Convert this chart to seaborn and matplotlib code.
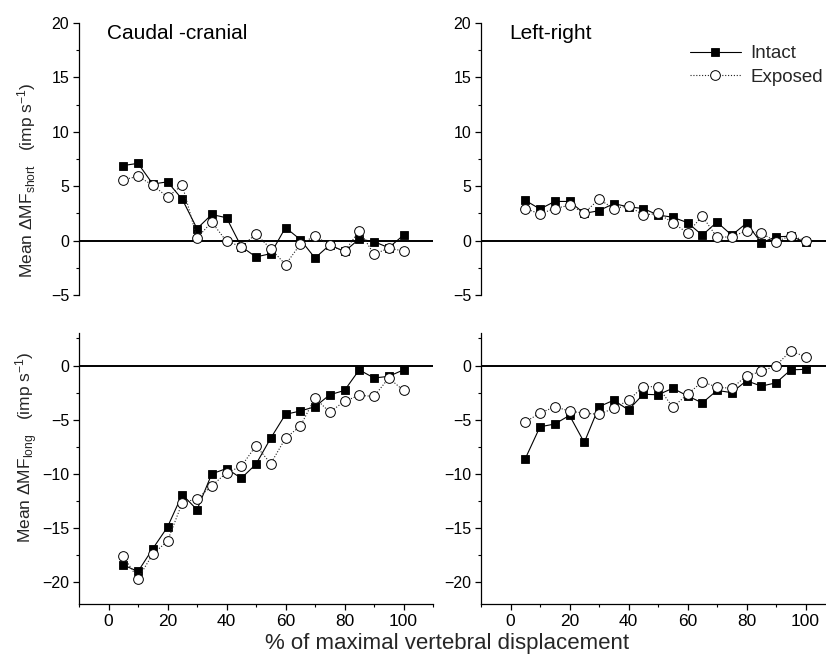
import numpy as np
import pandas as pd
import matplotlib
matplotlib.use("Agg")
import matplotlib.pyplot as plt
import seaborn as sns
from matplotlib.ticker import MultipleLocator
from matplotlib.lines import Line2D

# ---------------- data ----------------
displacement = [5, 10, 15, 20, 25, 30, 35, 40, 45, 50, 55, 60, 65, 70, 75, 80, 85, 90, 95, 100]

cc_short_intact = [6.9, 7.1, 5.2, 5.4, 3.8, 1.1, 2.4, 2.1, -0.55, -1.5, -1.2, 1.2, 0.1, -1.6, -0.4, -1.0, 0.15, -0.1, -0.65, 0.5]
cc_short_exposed = [5.6, 5.9, 5.1, 4.0, 5.1, 0.25, 1.7, -0.06, -0.55, 0.6, -0.75, -2.2, -0.35, 0.45, -0.45, -1.0, 0.9, -1.25, -0.7, -0.95]

lr_short_intact = [3.7, 2.9, 3.6, 3.6, 2.5, 2.75, 3.4, 3.1, 2.95, 2.35, 2.15, 1.65, 0.5, 1.7, 0.5, 1.6, -0.2, 0.35, 0.4, -0.15]
lr_short_exposed = [2.95, 2.45, 2.95, 3.25, 2.55, 3.8, 2.95, 3.2, 2.35, 2.5, 1.65, 0.7, 2.25, 0.3, 0.35, 0.9, 0.7, -0.1, 0.45, 0.0]

cc_long_intact = [-18.4, -19.0, -16.9, -14.9, -11.9, -13.3, -10.0, -9.5, -10.4, -9.1, -6.7, -4.5, -4.2, -3.8, -2.7, -2.3, -0.4, -1.15, -1.0, -0.4]
cc_long_exposed = [-17.6, -19.65, -17.4, -16.2, -12.65, -12.3, -11.1, -9.9, -9.3, -7.4, -9.05, -6.7, -5.6, -3.0, -4.3, -3.3, -2.75, -2.85, -1.15, -2.3]

lr_long_intact = [-8.6, -5.65, -5.4, -4.6, -7.1, -3.8, -3.2, -4.1, -2.65, -2.7, -2.1, -2.8, -3.45, -2.3, -2.5, -1.4, -1.9, -1.6, -0.4, -0.35]
lr_long_exposed = [-5.2, -4.4, -3.8, -4.2, -4.4, -4.5, -3.95, -3.2, -1.95, -1.95, -3.85, -2.65, -1.5, -2.0, -2.1, -0.95, -0.55, 0.0, 1.35, 0.8]

conditions = ["Intact", "Exposed"]
directions = ["Caudal -cranial", "Left-right"]
x_ticks = [0, 20, 40, 60, 80, 100]
short_ticks = [-5, 0, 5, 10, 15, 20]
long_ticks = [-20, -15, -10, -5, 0]
x_label = "% of maximal vertebral displacement"
y_label_short = "Mean \u0394MF$_{\\mathregular{short}}$   (imp s$^{\\mathregular{-1}}$)"
y_label_long = "Mean \u0394MF$_{\\mathregular{long}}$   (imp s$^{\\mathregular{-1}}$)"

series = {
    ("Caudal -cranial", "short"): (cc_short_intact, cc_short_exposed),
    ("Left-right", "short"): (lr_short_intact, lr_short_exposed),
    ("Caudal -cranial", "long"): (cc_long_intact, cc_long_exposed),
    ("Left-right", "long"): (lr_long_intact, lr_long_exposed),
}
rows = []
for (d, m), (si, se) in series.items():
    for cond, vals in zip(conditions, (si, se)):
        for xv, yv in zip(displacement, vals):
            rows.append(dict(direction=d, measure=m, condition=cond, displacement=xv, value=yv))
df = pd.DataFrame(rows)

# ---------------- style ----------------
sns.set_theme(style="ticks")
plt.rcParams["font.family"] = ["Liberation Sans", "DejaVu Sans"]
plt.rcParams["mathtext.fontset"] = "custom"
plt.rcParams["mathtext.rm"] = "Liberation Sans"
plt.rcParams["mathtext.it"] = "Liberation Sans:italic"
plt.rcParams["mathtext.bf"] = "Liberation Sans:bold"
plt.rcParams["axes.linewidth"] = 0.9
plt.rcParams["axes.edgecolor"] = "black"

fig = plt.figure(figsize=(8.26, 6.58), dpi=100)
W, H = 826.0, 658.0
lefts = {"Caudal -cranial": 79 / W, "Left-right": 481 / W}
aw = 354 / W
pos = {"short": (1 - 295 / H, 272 / H), "long": (1 - 604 / H, 271 / H)}

styles = {
    "Intact": dict(color="black", marker="s", markersize=6.3, markerfacecolor="black",
                   markeredgecolor="black", markeredgewidth=0.6, linewidth=0.8, linestyle="-"),
    "Exposed": dict(color="#222222", marker="o", markersize=7.0, markerfacecolor="white",
                    markeredgecolor="black", markeredgewidth=0.7, linewidth=0.8,
                    linestyle=(0, (1, 1.6))),
}

axes = {}
for d in directions:
    for m in ["short", "long"]:
        b, h = pos[m]
        ax = fig.add_axes([lefts[d], b, aw, h])
        axes[(d, m)] = ax
        ax.axhline(0, color="black", linewidth=1.4, zorder=1)
        sub = df[(df.direction == d) & (df.measure == m)]
        for cond in conditions:
            s = sub[sub.condition == cond]
            sns.lineplot(data=s, x="displacement", y="value", ax=ax, errorbar=None,
                         legend=False, zorder=3, **styles[cond])
        ax.set_xlim(-10, 110)
        ax.set_xlabel("")
        ax.set_ylabel("")
        ax.yaxis.set_major_locator(MultipleLocator(5))
        ax.yaxis.set_minor_locator(MultipleLocator(2.5))
        ax.tick_params(axis="y", which="major", direction="out", length=4.5, width=0.9,
                       labelsize=11.5, pad=2.5, color="black", labelcolor="black")
        ax.tick_params(axis="y", which="minor", direction="out", length=2.5, width=0.8,
                       color="black")
        sns.despine(ax=ax, top=True, right=True, bottom=(m == "short"))
        if m == "short":
            ax.set_ylim(-5, 20)
            ax.set_yticks(short_ticks)
            ax.set_xticks([])
            ax.tick_params(axis="x", which="both", bottom=False, labelbottom=False)
            ax.text(0.079, 0.963, d, transform=ax.transAxes, ha="left", va="center",
                    fontsize=15, color="black")
        else:
            ax.set_ylim(-22, 3)
            ax.set_yticks(long_ticks)
            ax.set_xticks(x_ticks)
            ax.xaxis.set_minor_locator(MultipleLocator(10))
            ax.tick_params(axis="x", which="major", direction="out", length=4, width=0.9,
                           labelsize=12.5, pad=3, color="black", labelcolor="black")
            ax.tick_params(axis="x", which="minor", direction="out", length=2.5, width=0.8,
                           color="black")
        ax.patch.set_alpha(0)

fig.text(0.541, 1 - 644 / H, x_label, ha="center", va="center", fontsize=16)
fig.text(0.032, 1 - 180 / H, y_label_short, ha="center", va="center", rotation=90, fontsize=12.5)
fig.text(0.032, 1 - 447 / H, y_label_long, ha="center", va="center", rotation=90, fontsize=12.5)

handles = [Line2D([], [], **styles[c]) for c in conditions]
axes[("Left-right", "short")].legend(handles, conditions, loc="upper left",
                                     bbox_to_anchor=(690 / W, 1 - 45 / H),
                                     bbox_transform=fig.transFigure, frameon=False,
                                     fontsize=13.5, handlelength=2.7, handletextpad=0.5,
                                     labelspacing=0.35, borderpad=0, borderaxespad=0)

fig.savefig("out.png", dpi=100)
